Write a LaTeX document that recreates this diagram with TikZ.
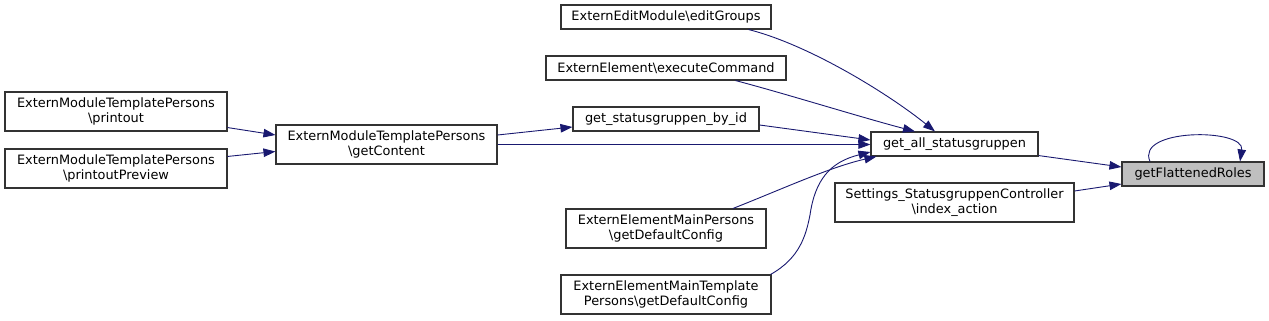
\documentclass[tikz,border=0pt]{standalone}
\usepackage{fontspec}
\setmainfont{DejaVu Sans}
\usetikzlibrary{arrows.meta}
\definecolor{edgeblue}{HTML}{191970}
\definecolor{boxline}{HTML}{333333}
\definecolor{hilite}{HTML}{BFBFBF}
\begin{document}
\begin{tikzpicture}[x=1pt,y=-1pt,
  fn/.style={draw=boxline,line width=1.1pt,fill=white,inner sep=0pt,align=center,
    font=\fontsize{12.9}{15}\selectfont},
  call/.style={draw=edgeblue,line width=0.9pt,-{Triangle[length=12pt,width=8.5pt]}}]
\useasboundingbox (0,0) rectangle (1269,321);
\node[fn,fill=hilite,minimum width=142pt,minimum height=24pt] (gfr) at (1193,174) {getFlattenedRoles};
\node[fn,minimum width=167pt,minimum height=24pt] (gas) at (954.5,144) {get\_all\_statusgruppen};
\node[fn,minimum width=239pt,minimum height=39pt] (set) at (954.5,202.5) {Settings\_StatusgruppenController\\\textbackslash index\_action};
\node[fn,minimum width=210pt,minimum height=24pt] (edit) at (666,17) {ExternEditModule\textbackslash editGroups};
\node[fn,minimum width=240pt,minimum height=24pt] (exec) at (666,68) {ExternElement\textbackslash executeCommand};
\node[fn,minimum width=186pt,minimum height=24pt] (byid) at (666,119) {get\_statusgruppen\_by\_id};
\node[fn,minimum width=221pt,minimum height=39pt] (gc) at (386.5,144.5) {ExternModuleTemplatePersons\\\textbackslash getContent};
\node[fn,minimum width=222pt,minimum height=39pt] (po) at (116,111.5) {ExternModuleTemplatePersons\\\textbackslash printout};
\node[fn,minimum width=222pt,minimum height=39pt] (pp) at (116,168.5) {ExternModuleTemplatePersons\\\textbackslash printoutPreview};
\node[fn,minimum width=200pt,minimum height=39pt] (mp) at (666,228.5) {ExternElementMainPersons\\\textbackslash getDefaultConfig};
\node[fn,minimum width=210pt,minimum height=39pt] (mtp) at (666,294.5) {ExternElementMainTemplate\\Persons\textbackslash getDefaultConfig};

% edges
\draw[call] ([yshift=4pt]po.south east) -- ([yshift=9.5pt]gc.west);
\draw[call] ([yshift=-8pt]pp.north east) -- ([yshift=-7pt]gc.west);
\draw[call] ([yshift=9.5pt]gc.east) -- ([yshift=-8pt]byid.west);
\draw[call] (gc.east) -- ([yshift=-0.5pt]gas.west);
\draw[call] ([yshift=-6pt]byid.east) -- ([yshift=4pt]gas.west);
\draw[call] ([xshift=-23pt]edit.south east) .. controls (810,45) and (890,95) .. ([xshift=-19.5pt]gas.north);
\draw[call] ([xshift=-51pt]exec.south east) .. controls (790,95) and (860,117) .. ([xshift=-39.5pt]gas.north);
\draw[call] ([xshift=67pt]mp.north) .. controls (780,190) and (830,167) .. ([xshift=6pt]gas.south west);
\draw[call] ([xshift=-1pt]mtp.north east) .. controls (800,258) and (806,235) .. (810,215)
   .. controls (815,180) and (830,162) .. ([yshift=-8pt]gas.west);
\draw[call] ([yshift=1pt]gas.south east) -- ([yshift=7pt]gfr.west);
\draw[call] ([yshift=11.5pt]set.east) -- ([yshift=-10pt]gfr.west);
\draw[call] ([xshift=-43pt]gfr.north) .. controls (1135,128) and (1245,128) .. ([xshift=47pt]gfr.north);
\end{tikzpicture}
\end{document}
